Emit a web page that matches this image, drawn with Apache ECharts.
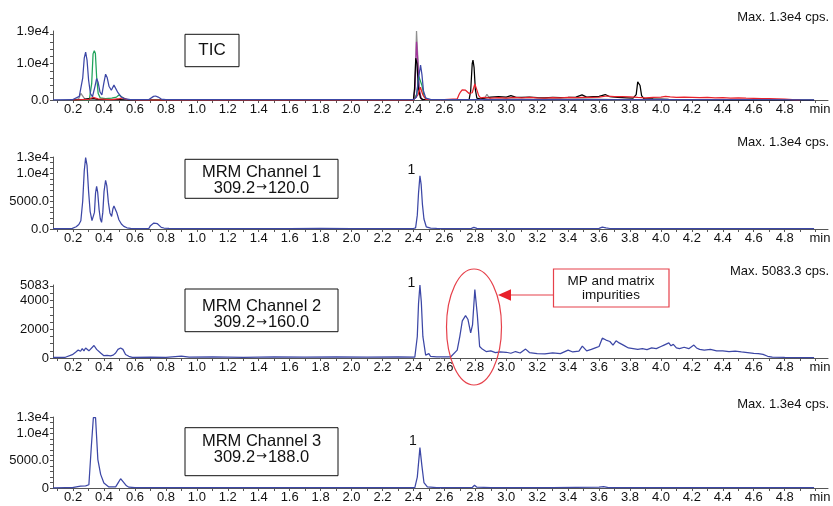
<!DOCTYPE html>
<html>
<head>
<meta charset="utf-8">
<script src="https://cdn.jsdelivr.net/npm/echarts@6/dist/echarts.min.js"></script>
<style>
html,body{margin:0;padding:0;background:#fff;}
#c{width:833px;height:506px;}
</style>
</head>
<body>
<div id="c"></div>
<script>
// ---------- tick labels ----------
const xLabels = [0.2,0.4,0.6,0.8,1.0,1.2,1.4,1.6,1.8,2.0,2.2,2.4,2.6,2.8,3.0,3.2,3.4,3.6,3.8,4.0,4.2,4.4,4.6,4.8];
const yMax = [19000, 13000, 5083, 13000];
const yTickVals = [[0,10000,19000],[0,5000,10000,13000],[0,2000,4000,5083],[0,5000,10000,13000]];
const yTickText = [['0.0','1.0e4','1.9e4'],['0.0','5000.0','1.0e4','1.3e4'],['0','2000','4000','5083'],['0','5000.0','1.0e4','1.3e4']];
const maxTexts = ['Max. 1.3e4 cps.','Max. 1.3e4 cps.','Max. 5083.3 cps.','Max. 1.3e4 cps.'];
const boxTitles = ['TIC','MRM Channel 1','MRM Channel 2','MRM Channel 3'];
const precursors = ['', '309.2', '309.2', '309.2'];
const products = ['', '120.0', '160.0', '188.0'];

// ---------- TIC traces [min, cps] ----------
const ticBlue = [[0.07,50],[0.195,80],[0.24,1000],[0.262,6000],[0.272,11500],[0.281,13200],[0.29,11000],[0.30,5500],[0.312,1800],[0.325,900],[0.34,3500],[0.352,5900],[0.362,4800],[0.374,2200],[0.386,1400],[0.398,4500],[0.41,7100],[0.42,6200],[0.432,3800],[0.447,2700],[0.464,4100],[0.475,3700],[0.49,2000],[0.51,900],[0.53,400],[0.57,100],[0.69,120],[0.70,500],[0.72,1000],[0.733,1100],[0.75,800],[0.77,250],[0.8,100],[1.0,80],[1.5,80],[2.0,80],[2.4,80],[2.42,800],[2.433,6000],[2.446,9600],[2.455,7000],[2.465,2500],[2.48,500],[2.51,150],[2.6,80],[3.0,80],[3.5,80],[4.0,80],[4.5,80],[4.99,60]];
const ticGreen = [[0.2,0],[0.305,50],[0.313,300],[0.32,4500],[0.329,12700],[0.337,13600],[0.344,12800],[0.352,6400],[0.362,1800],[0.375,600],[0.41,400],[0.45,500],[0.48,800],[0.496,1400],[0.508,1400],[0.52,700],[0.54,200],[0.58,0],[2.40,0],[2.42,1500],[2.435,6500],[2.445,7000],[2.455,4000],[2.47,800],[2.5,0]];
const ticGray = [[0.2,0],[0.235,300],[0.25,1800],[0.262,1500],[0.275,300],[0.3,100],[0.6,0],[2.40,0],[2.41,4000],[2.42,19000],[2.428,12000],[2.437,3000],[2.45,500],[2.47,0],[2.85,0],[2.865,800],[2.875,1570],[2.885,900],[2.9,200],[3.0,300],[3.2,200],[3.5,300],[3.7,100],[4.0,0]];
const ticPurple = [[2.40,0],[2.41,3000],[2.42,16000],[2.428,11000],[2.437,3000],[2.45,300],[2.47,0]];
const ticBlack = [[0.2,0],[0.27,200],[0.3,400],[0.33,450],[0.36,200],[0.5,100],[0.55,0],[2.40,0],[2.407,3000],[2.415,11500],[2.423,10000],[2.432,3500],[2.445,600],[2.46,100],[2.76,100],[2.77,2500],[2.78,10000],[2.785,11000],[2.792,9000],[2.8,3000],[2.81,500],[2.83,300],[2.87,600],[2.9,800],[2.95,900],[3.0,800],[3.03,1200],[3.06,800],[3.1,700],[3.15,800],[3.2,650],[3.25,600],[3.3,700],[3.35,650],[3.4,700],[3.45,800],[3.49,1400],[3.52,800],[3.56,900],[3.6,1000],[3.64,1500],[3.67,900],[3.72,700],[3.78,600],[3.82,500],[3.84,1500],[3.85,5000],[3.857,5500],[3.865,4000],[3.875,1200],[3.89,400],[3.95,300],[4.05,200],[4.2,100],[4.4,0],[4.99,0]];
const ticRed = [[0.2,0],[0.3,200],[0.33,700],[0.36,300],[0.45,100],[0.5,400],[0.52,600],[0.55,100],[0.6,0],[2.40,0],[2.43,1500],[2.445,3500],[2.46,1500],[2.48,200],[2.6,100],[2.683,300],[2.695,1500],[2.704,2200],[2.715,2800],[2.726,2900],[2.737,2700],[2.748,2500],[2.76,1800],[2.77,1300],[2.78,2000],[2.797,4400],[2.805,4000],[2.812,2500],[2.822,1200],[2.834,600],[2.86,700],[2.9,500],[2.95,650],[3.0,550],[3.05,700],[3.1,600],[3.15,750],[3.2,600],[3.25,550],[3.3,650],[3.35,600],[3.4,700],[3.45,650],[3.5,750],[3.55,700],[3.6,800],[3.65,1100],[3.7,900],[3.75,950],[3.8,850],[3.85,700],[3.9,600],[3.95,750],[4.0,800],[4.03,1000],[4.06,850],[4.1,700],[4.15,800],[4.2,750],[4.25,650],[4.3,700],[4.35,600],[4.4,650],[4.45,550],[4.5,600],[4.55,500],[4.6,450],[4.65,400],[4.7,350],[4.75,300],[4.8,250],[4.85,100],[4.9,50]];

// ---------- MRM channels ----------
const ch1 = [[0.07,60],[0.12,70],[0.17,80],[0.195,120],[0.22,400],[0.237,800],[0.25,1500],[0.262,5000],[0.272,10500],[0.281,12900],[0.29,11500],[0.30,6800],[0.31,3200],[0.322,1500],[0.331,1170],[0.338,3000],[0.345,6500],[0.352,7700],[0.359,6600],[0.368,3500],[0.376,1800],[0.384,1200],[0.392,3000],[0.40,6800],[0.41,8800],[0.418,7800],[0.428,4800],[0.438,2900],[0.449,2260],[0.457,3600],[0.464,4170],[0.472,4050],[0.482,3000],[0.496,1670],[0.512,900],[0.528,480],[0.548,220],[0.572,100],[0.62,80],[0.66,90],[0.69,120],[0.70,600],[0.712,900],[0.722,1070],[0.733,1190],[0.745,950],[0.755,600],[0.77,300],[0.787,180],[0.82,100],[0.9,80],[1.0,90],[1.2,70],[1.4,90],[1.6,80],[1.8,100],[2.0,80],[2.2,90],[2.4,90],[2.414,200],[2.425,2500],[2.433,6500],[2.442,9600],[2.45,8000],[2.458,4500],[2.468,1800],[2.483,400],[2.511,150],[2.55,100],[2.7,90],[2.775,100],[2.791,280],[2.81,110],[3.0,90],[3.3,80],[3.6,110],[3.621,330],[3.645,200],[3.67,90],[4.0,80],[4.5,70],[4.99,60]];
const ch2 = [[0.07,40],[0.15,50],[0.195,230],[0.216,400],[0.233,550],[0.248,470],[0.259,650],[0.27,500],[0.281,700],[0.291,600],[0.302,500],[0.313,550],[0.335,870],[0.352,600],[0.378,350],[0.399,160],[0.42,180],[0.442,150],[0.459,200],[0.475,350],[0.49,600],[0.507,700],[0.522,600],[0.539,240],[0.56,120],[0.583,50],[0.7,60],[0.8,50],[0.9,130],[0.95,60],[1.1,70],[1.3,50],[1.5,80],[1.7,60],[1.9,70],[2.1,60],[2.3,70],[2.409,60],[2.425,1500],[2.433,3800],[2.442,5083],[2.451,3900],[2.461,1500],[2.479,200],[2.5,300],[2.51,120],[2.55,70],[2.6,80],[2.64,70],[2.651,180],[2.683,550],[2.7,1500],[2.716,2580],[2.737,2950],[2.752,2700],[2.77,1750],[2.782,2300],[2.797,4770],[2.813,3000],[2.828,800],[2.845,620],[2.87,450],[2.9,500],[2.93,380],[2.96,420],[3.0,400],[3.03,330],[3.06,450],[3.09,350],[3.125,620],[3.15,380],[3.2,300],[3.25,280],[3.3,350],[3.35,300],[3.4,550],[3.43,420],[3.47,480],[3.492,830],[3.52,500],[3.55,600],[3.58,720],[3.6,800],[3.621,1380],[3.645,1250],[3.67,1150],[3.69,900],[3.71,1200],[3.73,1050],[3.76,880],[3.79,700],[3.82,650],[3.85,600],[3.88,650],[3.91,580],[3.94,700],[3.97,650],[4.0,800],[4.02,900],[4.051,1050],[4.065,850],[4.08,950],[4.1,700],[4.12,650],[4.15,750],[4.18,650],[4.213,900],[4.23,700],[4.25,600],[4.28,550],[4.32,600],[4.36,500],[4.4,500],[4.44,450],[4.48,480],[4.52,420],[4.56,380],[4.6,320],[4.63,300],[4.66,250],[4.69,120],[4.72,60],[4.8,40],[4.99,30]];
const ch3 = [[0.07,40],[0.15,50],[0.195,50],[0.248,350],[0.281,400],[0.302,600],[0.309,900],[0.318,7700],[0.331,12900],[0.338,13000],[0.345,12900],[0.36,5200],[0.378,2500],[0.399,900],[0.431,200],[0.475,200],[0.49,900],[0.507,1700],[0.517,1500],[0.528,1000],[0.545,400],[0.561,150],[0.6,60],[0.8,60],[1.2,50],[1.6,60],[2.0,50],[2.409,60],[2.425,2000],[2.442,7400],[2.455,4000],[2.468,1000],[2.49,200],[2.55,80],[2.78,100],[2.795,500],[2.81,150],[2.9,80],[3.3,60],[3.6,150],[3.612,500],[3.63,250],[3.66,80],[4.0,60],[4.5,60],[4.99,50]];

// ---------- build ----------
const chart = echarts.init(document.getElementById('c'), null, {renderer:'canvas'});
const FONT = 'Liberation Sans, Arial, Helvetica, sans-serif';
const AX = '#555';
const TXT = '#111';
const gridTops = [31, 157, 285, 417];
const gridHeights = [69, 72, 73, 71];
const grids = gridTops.map((t,i)=>({left:53, right:5, top:t, height:gridHeights[i]}));

const xTicks = [];
for (let k=1;k<=50;k++) xTicks.push(+(k*0.1).toFixed(1));

const xAxes = grids.map((g,i)=>({
  gridIndex:i, type:'value', min:0.07, max:5.08,
  axisLine:{show:true, lineStyle:{color:AX, width:1}},
  axisTick:{show:true, customValues:xTicks, length:3, lineStyle:{color:AX}},
  axisLabel:{customValues:xLabels, formatter:v=>v.toFixed(1), margin:3, fontSize:13, color:TXT, fontFamily:FONT},
  splitLine:{show:false}
}));
const yStep = [2000, 1000, 500, 1000];
const yAxes = grids.map((g,i)=>{
  const ticks=[];
  for (let v=0; v<=yMax[i]; v+=yStep[i]) ticks.push(v);
  return {
    gridIndex:i, type:'value', min:0, max:yMax[i],
    axisLine:{show:true, lineStyle:{color:AX, width:1}},
    axisTick:{show:true, customValues:ticks, length:3, lineStyle:{color:AX}},
    axisLabel:{customValues:yTickVals[i], formatter:v=>{const k=yTickVals[i].indexOf(v); return k>=0?yTickText[i][k]:'';}, margin:4, fontSize:13, color:TXT, fontFamily:FONT},
    splitLine:{show:false}
  };
});

function line(data, color, gi, z){
  return {type:'line', data:data, xAxisIndex:gi, yAxisIndex:gi, showSymbol:false, symbol:'none',
    lineStyle:{color:color, width:1.25}, itemStyle:{color:color}, z:z||2, animation:false, silent:true};
}
const BLUE='#3c47a6', GREEN='#1fa35a', RED='#e8222c', BLACK='#000000', GRAY='#8f8f8f', PURPLE='#a3339c';
const series = [
  line(ticGray, GRAY, 0, 2),
  line(ticPurple, PURPLE, 0, 3),
  line(ticGreen, GREEN, 0, 4),
  line(ticBlack, BLACK, 0, 5),
  line(ticRed, RED, 0, 6),
  line(ticBlue, BLUE, 0, 7),
  line(ch1, BLUE, 1),
  line(ch2, BLUE, 2),
  line(ch3, BLUE, 3)
];

const graphic = [];
const baselines = gridTops.map((t,i)=>t+gridHeights[i]);
const maxY = [17, 142, 271, 404];
maxTexts.forEach((s,i)=>{
  graphic.push({type:'text', x:829, y:maxY[i], style:{text:s, fontSize:13, fontFamily:FONT, fill:TXT, align:'right', verticalAlign:'middle'}});
  graphic.push({type:'text', x:820, y:baselines[i]+9.5, style:{text:'min', fontSize:13, fontFamily:FONT, fill:TXT, align:'center', verticalAlign:'middle'}});
});
// TIC box
graphic.push({type:'rect', shape:{x:185, y:34.3, width:54, height:32.4}, style:{fill:'#fff', stroke:'#111', lineWidth:1}});
graphic.push({type:'text', x:212, y:50.5, style:{text:boxTitles[0], fontSize:17, fontFamily:FONT, fill:TXT, align:'center', verticalAlign:'middle'}});
// MRM boxes
const boxes = [[159.3,39,172,188],[289,42.7,306.7,322.3],[427.7,48,441,457]];
boxes.forEach((b,k)=>{
  graphic.push({type:'rect', shape:{x:185, y:b[0], width:153, height:b[1]}, style:{fill:'#fff', stroke:'#111', lineWidth:1}});
  graphic.push({type:'text', x:261.5, y:b[2], style:{text:boxTitles[k+1], fontSize:16.5, fontFamily:FONT, fill:TXT, align:'center', verticalAlign:'middle'}});
  graphic.push({type:'text', x:261.5, y:b[3], style:{text:precursors[k+1]+'{a|\u2192}'+products[k+1], fontSize:16.5, fontFamily:FONT, fill:TXT, align:'center', verticalAlign:'middle',
    rich:{a:{fontFamily:'DejaVu Sans', fontSize:13, fill:TXT, padding:[0,1,0,1]}}}});
});
// peak labels "1"
[[411.5,170],[411.5,283.5],[413,441.5]].forEach(p=>{
  graphic.push({type:'text', x:p[0], y:p[1], style:{text:'1', fontSize:14, fontFamily:FONT, fill:TXT, align:'center', verticalAlign:'middle'}});
});
// ellipse, arrow, annotation box
const ANN = '#e6404a';
graphic.push({type:'ellipse', shape:{cx:474, cy:327, rx:27.5, ry:58}, style:{fill:null, stroke:ANN, lineWidth:1.2}, z:50});
graphic.push({type:'line', shape:{x1:509, y1:295, x2:553.5, y2:295}, style:{stroke:ANN, lineWidth:1.2}, z:50});
graphic.push({type:'polygon', shape:{points:[[498,295],[511,289.3],[511,300.7]]}, style:{fill:'#e8202a'}, z:50});
graphic.push({type:'rect', shape:{x:553.5, y:269, width:115.5, height:38}, style:{fill:'#fff', stroke:ANN, lineWidth:1.2}, z:50});
graphic.push({type:'text', x:611, y:281.5, style:{text:'MP and matrix', fontSize:13.5, fontFamily:FONT, fill:TXT, align:'center', verticalAlign:'middle'}, z:51});
graphic.push({type:'text', x:611, y:295.5, style:{text:'impurities', fontSize:13.5, fontFamily:FONT, fill:TXT, align:'center', verticalAlign:'middle'}, z:51});

chart.setOption({
  animation:false,
  backgroundColor:'#ffffff',
  grid:grids, xAxis:xAxes, yAxis:yAxes, series:series, graphic:graphic
});
</script>
</body>
</html>
